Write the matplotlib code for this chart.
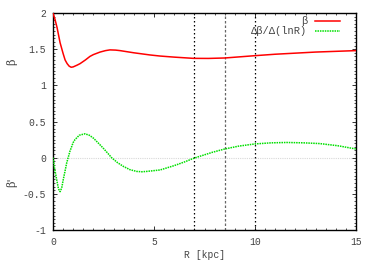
import numpy as np
import matplotlib
matplotlib.use("Agg")
import matplotlib.pyplot as plt
from matplotlib.ticker import MultipleLocator

# beta(R)
R_beta = [0.0, 0.1, 0.2, 0.35, 0.5, 0.6, 0.7, 0.8, 0.9, 1.0, 1.2, 1.34, 1.6, 1.83,
          2.0, 2.33, 2.6, 2.82, 3.1, 3.32, 4.0, 4.8, 5.3, 6.0, 6.95, 7.7, 8.5,
          10.0, 11.0, 12.0, 13.0, 14.0, 15.0]
beta = [2.0, 1.91, 1.80, 1.59, 1.44, 1.35, 1.30, 1.265, 1.25, 1.255, 1.28, 1.30,
        1.35, 1.40, 1.425, 1.46, 1.48, 1.49, 1.487, 1.48, 1.45, 1.42, 1.405, 1.39,
        1.373, 1.372, 1.378, 1.41, 1.43, 1.445, 1.46, 1.47, 1.48]

# d beta / d ln R
R_dbeta = [0.0, 0.08, 0.18, 0.27, 0.35, 0.43, 0.51, 0.6, 0.68, 0.84, 1.0, 1.09,
           1.3, 1.58, 1.8, 2.0, 2.25, 2.49, 2.7, 2.9, 3.2, 3.48, 3.8, 4.14, 4.4,
           4.64, 5.3, 6.0, 6.5, 7.0, 7.28, 7.9, 8.5, 9.2, 10.0, 10.8, 11.57,
           12.4, 13.2, 14.1, 15.0]
dbeta = [0.0, -0.15, -0.30, -0.43, -0.47, -0.42, -0.30, -0.18, -0.07, 0.09, 0.21,
         0.25, 0.31, 0.33, 0.31, 0.27, 0.20, 0.13, 0.065, 0.0, -0.07, -0.12,
         -0.165, -0.19, -0.195, -0.19, -0.17, -0.11, -0.06, -0.005, 0.02, 0.075,
         0.12, 0.16, 0.19, 0.205, 0.21, 0.205, 0.195, 0.165, 0.12]

vlines_R = [7.0, 8.5, 10.0]
xticks = [0, 5, 10, 15]
yticks = [-1, -0.5, 0, 0.5, 1, 1.5, 2]
ytick_labels = ["-1", "-0.5", "0", "0.5", "1", "1.5", "2"]

mono = "Liberation Mono"

fig = plt.figure(figsize=(3.74, 2.62), dpi=100)
ax = fig.add_axes([53/374, 32/262, (356-53)/374, (230-13)/262])

ax.axhline(0, color="#d8d8d8", lw=0.8, ls=(0, (1, 1)), zorder=1)
ax.axvline(vlines_R[0], color="black", lw=0.9, ls=(0, (1.2, 2.0)), zorder=2)
ax.axvline(vlines_R[1], color="#666666", lw=0.9, ls=(0, (2.0, 1.6)), zorder=2)
ax.axvline(vlines_R[2], color="black", lw=0.9, ls=(0, (1.2, 2.0)), zorder=2)

ax.plot(R_beta, beta, color="#ff0000", lw=1.1, label="β", zorder=3)
ax.plot(R_dbeta, dbeta, color="#00e000", lw=1.1, ls=(0, (1, 0.6)),
        label="Δβ/Δ(lnR)", zorder=3)

ax.set_xlim(0, 15)
ax.set_ylim(-1, 2)
ax.set_xticks(xticks)
ax.set_xticklabels([str(t) for t in xticks])
ax.set_yticks(yticks)
ax.set_yticklabels(ytick_labels)
ax.xaxis.set_minor_locator(MultipleLocator(0.5))
ax.yaxis.set_minor_locator(MultipleLocator(0.05))
ax.tick_params(which="both", direction="in", top=True, right=True, color="#333333")
ax.tick_params(which="major", length=3, width=0.7, labelsize=7, labelcolor="#444444", pad=5)
ax.tick_params(which="minor", length=1.5, width=0.6)
for lab in ax.get_xticklabels() + ax.get_yticklabels():
    lab.set_family(mono)
for s in ax.spines.values():
    s.set_linewidth(1.0)
    s.set_color("black")

ax.set_xlabel("R [kpc]", family=mono, fontsize=7, color="#444444", labelpad=2)
fig.text(12/374, 1 - 62/262, "β", rotation=90, ha="center", va="center",
         fontsize=8, color="#444444", family="DejaVu Serif")
fig.text(12/374, 1 - 182/262, "β'", rotation=90, ha="center", va="center",
         fontsize=8, color="#444444", family="DejaVu Serif")

leg = ax.legend(loc="upper right", frameon=False, markerfirst=False,
                fontsize=7.5, handlelength=2.4, handletextpad=0.7,
                borderaxespad=0.0, labelspacing=0.0,
                bbox_to_anchor=(344/374, (262-12)/262), bbox_transform=fig.transFigure)
for t in leg.get_texts():
    t.set_family([mono, "DejaVu Serif"])
    t.set_color("#444444")
    t.set_ha("right")

fig.savefig("out.png", dpi=100)
